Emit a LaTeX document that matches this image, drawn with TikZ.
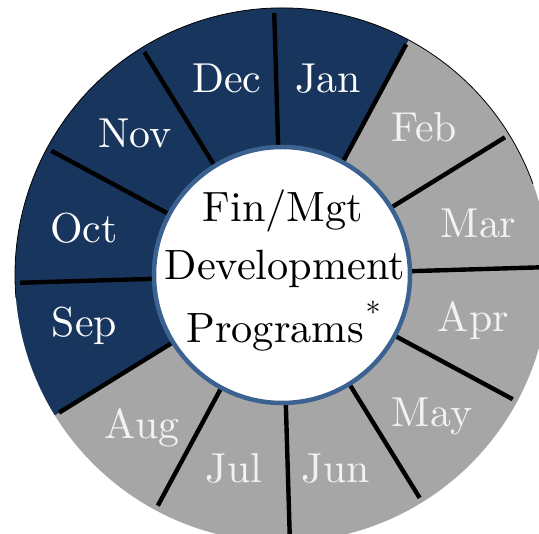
\documentclass[tikz,border=0pt]{standalone}
\usepackage{fontspec}
\setmainfont{lmroman10-regular.otf}
\definecolor{wheelnavy}{RGB}{24,54,93}
\definecolor{wheelgray}{RGB}{166,166,166}
\definecolor{hubblue}{RGB}{60,98,145}
\definecolor{graytext}{RGB}{242,242,242}
\newcommand\wheelmonthfont{\fontsize{42}{42}\selectfont}
\newcommand\wheelhubfont{\fontsize{42.5}{42}\selectfont}
\tikzset{
  divider/.style={draw=black, line width=4.4bp},
  hub/.style={circle, draw=hubblue, line width=4.5bp, fill=white, minimum size=256bp, inner sep=0pt},
  bluemonth/.style={font=\wheelmonthfont, text=white, anchor=base, inner sep=0pt},
  graymonth/.style={font=\wheelmonthfont, text=graytext, anchor=base, inner sep=0pt},
  hubtext/.style={font=\wheelhubfont, text=black, anchor=base, inner sep=0pt}
}
\begin{document}
\begin{tikzpicture}[x=1bp,y=1bp]
\useasboundingbox (0,0) rectangle (539,534);
\coordinate (c) at (282,259);
\begin{scope}
  \clip (0,0) rectangle (539,534);
  \fill[wheelgray] (c) circle[radius=267bp];
  \fill[wheelnavy] (c) -- ([shift={(61.7:267bp)}]c) arc[start angle=61.7, end angle=211.7, radius=267bp] -- cycle;
  \draw[black, line width=0.8bp] ([shift={(20:267bp)}]c) arc[start angle=20, end angle=185, radius=267bp];
  \foreach \a in {0,...,11}
    \draw[divider] ([shift={(1.7+30*\a:120bp)}]c) -- ([shift={(1.7+30*\a:262bp)}]c);
\end{scope}
\node[hub] (hub) at (c) {};
\node[hubtext] (l1) at (283,312.3) {Fin/Mgt};
\node[hubtext] (l2) at (285,254) {Development};
\node[hubtext] (l3) at (275,191.3) {Programs};
\node[hubtext, font=\fontsize{30}{30}\selectfont] (star) at (373,210) {*};
\node[bluemonth] (jan) at (328,441.3) {Jan};
\node[bluemonth] (dec) at (227,441.3) {Dec};
\node[graymonth] (feb) at (424,392.3) {Feb};
\node[graymonth] (mar) at (478.5,296) {Mar};
\node[graymonth] (apr) at (473.5,202.3) {Apr};
\node[graymonth] (may) at (432,107) {May};
\node[graymonth] (jun) at (336,51) {Jun};
\node[graymonth] (jul) at (234,51) {Jul};
\node[graymonth] (aug) at (142,95) {Aug};
\node[bluemonth] (sep) at (84.5,197.3) {Sep};
\node[bluemonth] (oct) at (84,291.3) {Oct};
\node[bluemonth] (nov) at (135,386) {Nov};
\end{tikzpicture}
\end{document}
